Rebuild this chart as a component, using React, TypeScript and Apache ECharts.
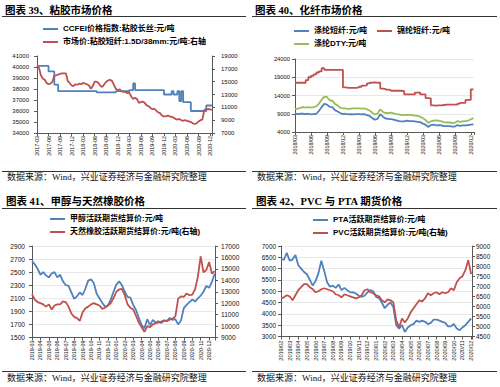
import React, { useEffect, useRef } from 'react';
import * as echarts from 'echarts';

// ---------- 图表 39 (half-month steps from 2017-03) ----------
const ticks39 = ['2017-03','2017-06','2017-09','2017-12','2018-03','2018-06','2018-09','2018-12','2019-03','2019-06','2019-09','2019-12','2020-03','2020-06','2020-09','2020-12'];
const ccfei39 = [
  40100,40100,40100,40100,40100,40100,39600,39600,39600,38400,
  38400,37800,37800,37800,37800,37800,37800,37800,37800,37800,
  37800,37800,37800,37800,37800,37800,37800,37800,37800,37800,
  37800,37700,37700,37700,37700,37700,37700,37700,37700,37700,
  37700,37800,37800,37800,37800,37800,37800,37800,37900,37900,
  38500,37900,37900,37900,37900,37900,37900,37900,37900,37900,
  37900,37900,37900,37900,37900,37900,37500,37500,37500,37500,
  37800,37500,37500,37800,36900,37800,36800,36800,36800,36800,
  36000,36000,36000,36000,36000,36000,36000,36000,36500,36500,
  36500,36500
];
const vsf39 = [
  17500,17200,16000,15500,15300,14800,14600,14700,15000,15900,
  16000,16100,16200,16300,16300,16300,15100,14800,14400,14300,
  14600,14500,14700,14600,14800,14700,14600,14400,13900,14300,
  15000,15000,14800,14300,14200,14600,15000,15200,15300,15100,
  14500,13900,13700,13800,13500,13400,13400,13200,13300,12700,
  12300,12500,12300,11700,11800,11900,11700,11300,11200,10900,
  10700,10800,10500,10200,10100,9700,9600,9600,9700,9600,
  9500,9400,9200,9100,9200,9000,8900,9000,8900,8800,
  8700,8500,8400,8500,8800,9000,9100,10600,10700,10700,
  10700,10600
];

// ---------- 图表 40 (half-month steps from 2018/03) ----------
const ticks40 = ['2018/03','2018/06','2018/09','2018/12','2019/03','2019/06','2019/09','2019/12','2020/03','2020/06','2020/09','2020/12'];
const psf40 = [
  9100,8900,9000,9000,8900,9000,8800,8900,9000,9800,
  10800,11700,11500,10900,10800,10000,9600,9200,8900,9000,
  8800,8900,8800,8900,8900,8800,8900,8600,8400,7800,
  7400,7600,8900,8200,7700,7600,7500,7400,7200,7000,
  6900,6900,7100,7000,7000,6900,6800,6700,6300,6000,
  5400,5900,6000,5800,5900,5800,5600,5600,5600,5500,
  5500,5900,5700,5800,5800,5900,6000,6100
];
const nylon40 = [
  17500,17500,17500,17500,18200,19000,19400,19800,20300,20600,
  21500,21000,21000,21000,21000,21000,21000,21000,16200,16100,
  16100,16100,16100,16200,16400,16700,16800,17300,17500,17600,
  17500,17500,15900,15800,15600,15500,15300,15300,15300,15300,
  15200,14300,14300,14300,14300,14800,14800,14300,14300,13300,
  13200,11300,11200,11300,11300,11400,11500,11500,11500,11500,
  11500,11800,12000,12000,12800,12800,15700,15600
];
const dty40 = [
  10300,10400,10600,10800,10700,10800,10700,10800,11000,11800,
  12800,13700,13600,12700,12600,11700,11300,10600,10500,10500,
  10300,10400,10500,10500,10500,10400,10500,10200,9900,9300,
  8800,9100,10200,9500,9200,9200,9300,9100,8900,8800,
  8600,8600,8700,8700,8600,8500,8400,8200,7800,7300,
  6500,6900,7100,7200,7100,6900,6700,6600,6600,6500,
  6500,7000,6800,6900,7000,7100,7500,7800
];

// ---------- 图表 41 (third-month steps from 2019-03) ----------
const ticks41 = ['2019-03','2019-04','2019-05','2019-06','2019-07','2019-08','2019-09','2019-10','2019-11','2019-12','2020-01','2020-02','2020-03','2020-04','2020-05','2020-06','2020-07','2020-08','2020-09','2020-10','2020-11','2020-12'];
const methanol41 = [
  2670,2620,2550,2460,2500,2450,2420,2480,2500,2420,
  2460,2360,2300,2290,2190,2090,2130,2190,2150,2250,
  2370,2390,2330,2170,2100,2030,1970,1990,2080,2200,
  2310,2360,2300,2200,2120,2110,2000,1920,1800,1690,
  1640,1780,1690,1770,1730,1750,1720,1760,1750,1800,
  1770,1780,1700,1760,1950,2000,2040,2080,2050,2100,
  2140,2200,2290,2260,2350,2480
];
const rubber41 = [
  12800,12300,12100,12000,11900,11700,11900,11450,11800,11900,
  11900,12150,12100,11700,11100,10800,10700,10450,11200,11550,
  11700,11900,12000,11900,11800,11500,11600,11800,12000,12450,
  13000,13200,13250,12700,11900,11600,11450,10900,10300,9900,
  9500,10000,9900,10150,10250,10300,10400,10500,10450,10550,
  10650,10850,12400,12600,12550,12850,12700,12750,13200,14300,
  16100,14700,14900,15600,14600,14800
];

// ---------- 图表 42 (third-month steps from 2019/02) ----------
const ticks42 = ['2019/02','2019/03','2019/04','2019/05','2019/06','2019/07','2019/08','2019/09','2019/10','2019/11','2019/12','2020/01','2020/02','2020/03','2020/04','2020/05','2020/06','2020/07','2020/08','2020/09','2020/10','2020/11','2020/12'];
const pta42 = [
  6450,6380,6700,6350,6400,6600,6150,6000,5850,5750,
  5500,5250,5450,5800,6350,5900,5400,5200,5250,5150,
  5300,5050,5150,5050,4950,4950,4900,4800,4750,4800,
  4950,5050,5000,4750,4700,4500,4250,4400,4500,4300,
  3500,3350,3500,3200,3400,3500,3550,3700,3650,3700,
  3650,3550,3600,3750,3750,3700,3650,3600,3450,3450,
  3550,3350,3280,3400,3500,3650,3800
];
const pvc42 = [
  6400,6450,6550,6500,6300,6550,6800,6950,7100,7100,
  6950,6850,6700,6750,6850,6900,6850,6800,6750,6600,
  6550,6450,6600,6550,6500,6450,6400,6450,6550,6800,
  6850,6700,6650,6550,6500,6300,6200,6350,6300,6200,
  5300,4950,5400,5200,5400,5700,5900,6100,6300,6250,
  6400,6650,6550,6650,6700,6600,6700,6650,6700,6900,
  6800,7200,7400,7500,7800,8300,7600
];

const BLUE = '#4F81BD';
const RED = '#C0504D';
const GREEN = '#9BBB59';
const SANS = '"Liberation Sans", Arial, sans-serif';
const CJK = '"Liberation Serif", "Noto Sans CJK SC", serif';
const LEG = '"Liberation Sans", "Noto Sans CJK SC", sans-serif';
const AXIS = '#595959';

function pts(values: number[], step: number, base = 0) {
  return values.map((v, i) => [i * step, v - base]);
}

function xAxis(grid: number, max: number, interval: number, labels: string[], fontSize: number, margin: number) {
  return {
    type: 'value', gridIndex: grid, min: 0, max, interval,
    axisLine: { show: true, onZero: false, lineStyle: { color: AXIS, width: 1 } },
    axisTick: { show: true, length: 3, lineStyle: { color: AXIS } },
    splitLine: { show: false },
    axisLabel: {
      rotate: 90, fontSize, margin, color: '#111', fontFamily: SANS,
      formatter: (v: number) => {
        const k = Math.round(v / interval);
        if (Math.abs(v - k * interval) > 1e-6) return '';
        return labels[k] ?? '';
      },
    },
  };
}

function yAxis(grid: number, position: string, min: number, max: number, interval: number, base: number, fontSize: number, margin: number, gridLines: boolean) {
  return {
    type: 'value', gridIndex: grid, position, min, max, interval,
    axisLine: { show: true, lineStyle: { color: AXIS, width: 1 } },
    axisTick: { show: true, length: 3, lineStyle: { color: AXIS } },
    splitLine: { show: gridLines, lineStyle: { color: '#e3e3e3', width: 0.8 } },
    axisLabel: { fontSize, margin, color: '#111', fontFamily: SANS, formatter: (v: number) => String(Math.round(v + base)) },
  };
}

function legend(name: string, left: number, top: number) {
  return {
    data: [name], left, top, padding: 0, icon: 'rect', itemWidth: 15, itemHeight: 2, itemGap: 4, selectedMode: false,
    textStyle: { fontSize: 8, color: '#000', fontFamily: LEG, fontWeight: 'bold' },
  };
}

function line(name: string, x: number, y: number, data: number[][], color: string, extra: any = {}) {
  return {
    name, type: 'line', xAxisIndex: x, yAxisIndex: y, data, symbol: 'none', showSymbol: false,
    lineStyle: { color, width: 1.8 }, itemStyle: { color }, ...extra,
  };
}

const TITLES = [
  { text: '图表 39、粘胶市场价格', x: 5, y: 10 },
  { text: '图表 40、化纤市场价格', x: 255, y: 10 },
  { text: '图表 41、甲醇与天然橡胶价格', x: 6, y: 201.5 },
  { text: '图表 42、PVC 与 PTA 期货价格', x: 256, y: 201.5 },
];
const SOURCE = '数据来源：Wind，兴业证券经济与金融研究院整理';

export default function App() {
  const ref = useRef<HTMLDivElement>(null);
  useEffect(() => {
    if (!ref.current) return;
    const chart = echarts.init(ref.current, undefined, { renderer: 'svg' });
    const n = [
      'CCFEI价格指数:粘胶长丝:元/吨',
      '市场价:粘胶短纤:1.5D/38mm:元/吨:右轴',
      '涤纶短纤:元/吨',
      '锦纶短纤:元/吨',
      '涤纶DTY:元/吨',
      '甲醇活跃期货结算价:元/吨',
      '天然橡胶活跃期货结算价:元/吨(右轴)',
      'PTA活跃期货结算价:元/吨',
      'PVC活跃期货结算价:元/吨(右轴)',
    ];
    const graphics: any[] = [];
    TITLES.forEach((t) => {
      graphics.push({ type: 'text', x: t.x, y: t.y, style: { text: t.text, font: `bold 10.5px ${CJK}`, fill: '#000', verticalAlign: 'middle' } });
    });
    const seps = [
      [2, 246, 16.5], [252, 497, 16.5], [2, 246, 171.5], [252, 497, 171.5],
      [2, 246, 208.5], [252, 497, 208.5], [2, 246, 371.5], [252, 497, 371.5],
    ];
    seps.forEach(([a, b, y]) => {
      graphics.push({ type: 'line', shape: { x1: a, y1: y, x2: b, y2: y }, style: { stroke: '#333', lineWidth: 1 } });
    });
    [[7, 176.5], [257, 176.5], [7, 378], [257, 378]].forEach(([x, y]) => {
      graphics.push({ type: 'text', x, y, style: { text: SOURCE, font: `9px ${CJK}`, fill: '#111', verticalAlign: 'middle' } });
    });

    chart.setOption({
      animation: false,
      backgroundColor: '#fff',
      grid: [
        { left: 37, top: 56, width: 175, height: 77 },
        { left: 295, top: 59, width: 179, height: 73 },
        { left: 32, top: 246, width: 183, height: 91.5 },
        { left: 281, top: 246, width: 191, height: 90.5 },
      ],
      xAxis: [
        xAxis(0, 45.5, 3, ticks39, 5.4, 3),
        xAxis(1, 33.6, 3, ticks40, 5.4, 3),
        xAxis(2, 21.7, 1, ticks41, 5.4, 3),
        xAxis(3, 22.1, 1, ticks42, 5.6, 4),
      ],
      yAxis: [
        yAxis(0, 'left', 34000, 41000, 1000, 0, 6, 8, false),
        yAxis(0, 'right', 0, 12000, 2000, 7000, 6, 9, false),
        yAxis(1, 'left', 0, 20000, 5000, 4000, 5.8, 5, true),
        yAxis(2, 'left', 0, 1400, 200, 1500, 6.6, 7, true),
        yAxis(2, 'right', 9000, 17000, 1000, 0, 6.6, 6, false),
        yAxis(3, 'left', 3000, 7000, 500, 0, 6.4, 5, true),
        yAxis(3, 'right', 4500, 9000, 500, 0, 6.4, 4, false),
      ],
      legend: [
        legend(n[0], 43, 25),
        legend(n[1], 43, 38),
        legend(n[2], 294, 27),
        legend(n[3], 377, 27),
        legend(n[4], 294, 40),
        legend(n[5], 50, 215),
        legend(n[6], 50, 228),
        legend(n[7], 313, 216),
        legend(n[8], 313, 229),
      ],
      series: [
        line(n[0], 0, 0, pts(ccfei39, 0.5), BLUE, { step: 'end' }),
        line(n[1], 0, 1, pts(vsf39, 0.5, 7000), RED),
        line(n[2], 1, 2, pts(psf40, 0.5, 4000), BLUE),
        line(n[3], 1, 2, pts(nylon40, 0.5, 4000), RED, { step: 'end' }),
        line(n[4], 1, 2, pts(dty40, 0.5, 4000), GREEN),
        line(n[5], 2, 3, pts(methanol41, 1 / 3, 1500), BLUE),
        line(n[6], 2, 4, pts(rubber41, 1 / 3), RED),
        line(n[7], 3, 5, pts(pta42, 1 / 3), BLUE),
        line(n[8], 3, 6, pts(pvc42, 1 / 3), RED),
      ],
      graphic: graphics,
    });
    return () => chart.dispose();
  }, []);
  return <div ref={ref} style={{ position: 'absolute', left: 0, top: 0, width: 500, height: 387, background: '#fff' }} />;
}
